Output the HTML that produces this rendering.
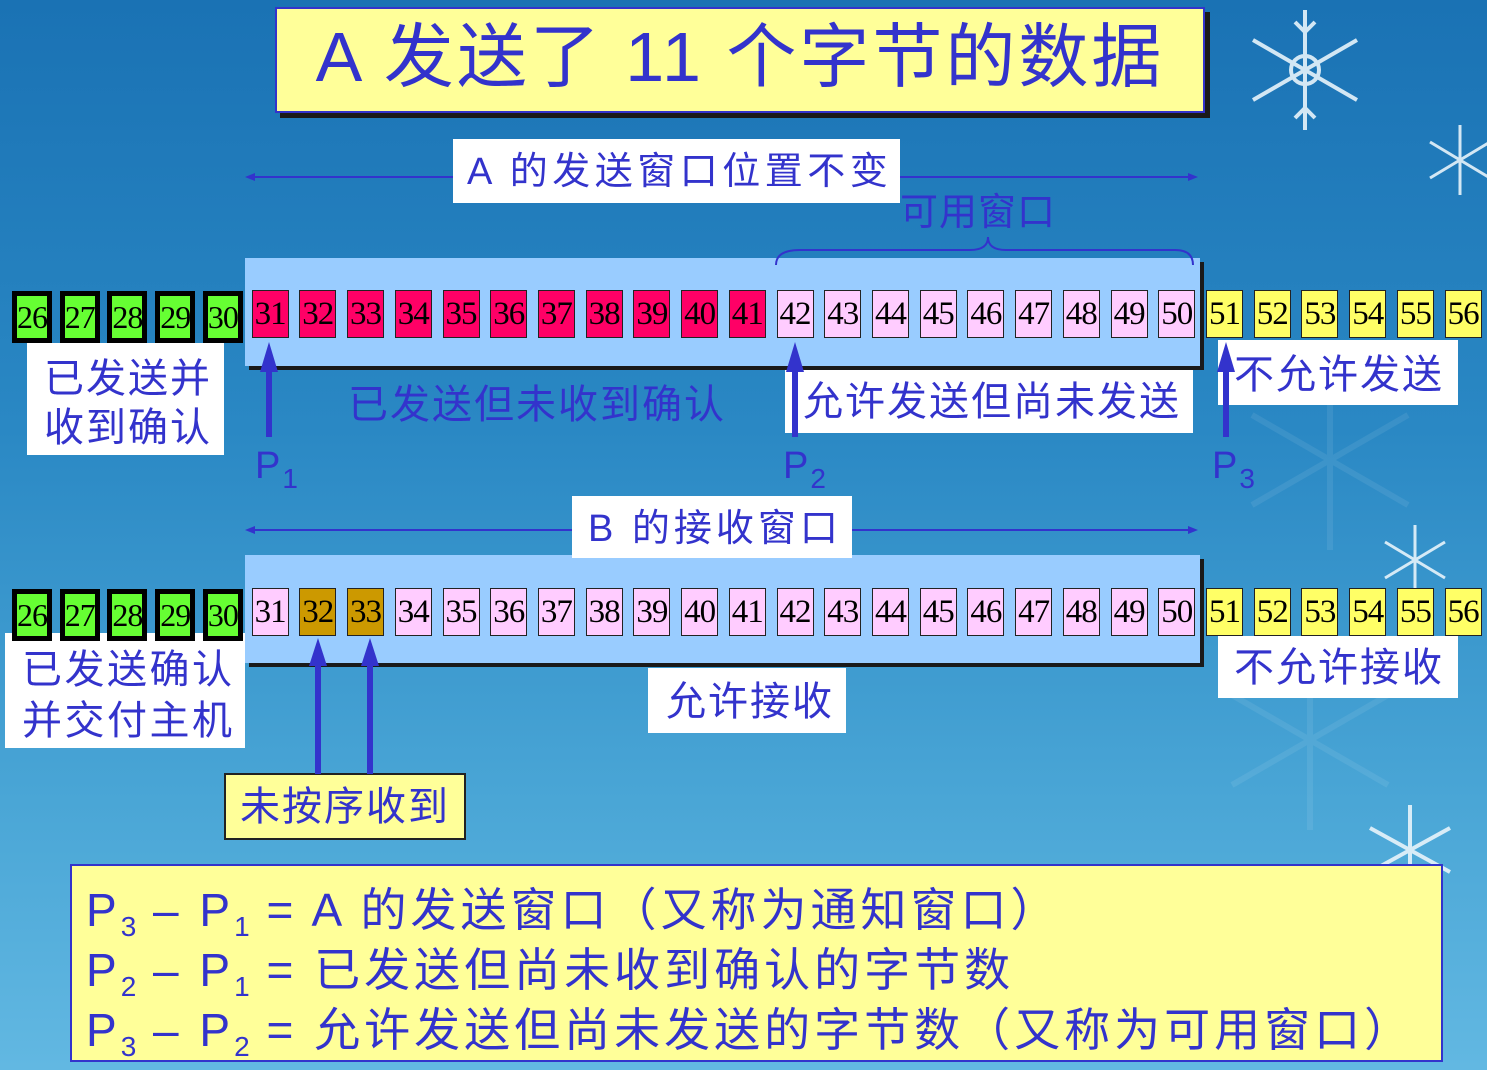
<!DOCTYPE html>
<html><head><meta charset="utf-8"><style>
*{margin:0;padding:0;box-sizing:border-box}
html,body{width:1487px;height:1070px;overflow:hidden}
body{position:relative;background:linear-gradient(180deg,#1a72b4 0%,#2a88c4 40%,#4aa6d6 75%,#62b8e2 100%);font-family:"Liberation Sans","Noto Sans CJK SC",sans-serif;color:#3333cc}
.a{position:absolute}
.w{position:absolute;background:#fff}
.c{position:absolute;width:37px;height:48px;font-family:"Liberation Serif",serif;font-size:33px;line-height:46px;text-align:center;color:#000;border:1.5px solid #222;letter-spacing:-1px}
.g{background:#66ff33;border:5px solid #000;width:40px;height:52px;line-height:42px;font-size:32px}
.r{background:#ff0066}.p{background:#ffccff}.y{background:#ffff66}.o{background:#cc9900}
.t{position:absolute;white-space:nowrap;font-size:40px;line-height:1;letter-spacing:2px}
sub{font-size:28px;vertical-align:-10px;line-height:0;letter-spacing:0}
</style></head><body>
<svg class="a" style="left:0;top:0" width="1487" height="1070">
 <g stroke="#e8f4fb" stroke-width="4" fill="none" opacity=".9">
  <g transform="translate(1305,70)"><circle r="14"/><path d="M0,-60V60M-52,-30L52,30M-52,30L52,-30M-10,-48L0,-38L10,-48M-10,48L0,38L10,48"/></g>
  <g transform="translate(1460,160)" stroke-width="3"><path d="M0,-35V35M-30,-18L30,18M-30,18L30,-18"/></g>
  <g transform="translate(1415,560)" stroke-width="3"><path d="M0,-35V35M-30,-18L30,18M-30,18L30,-18"/></g>
  <g transform="translate(1410,850)" stroke-width="4"><path d="M0,-45V45M-40,-22L40,22M-40,22L40,-22"/></g>
 </g>
 <g opacity=".08" stroke="#fff" stroke-width="6" fill="none">
  <g transform="translate(1330,460)"><path d="M0,-90V90M-78,-45L78,45M-78,45L78,-45"/></g>
  <g transform="translate(1310,740)"><path d="M0,-90V90M-78,-45L78,45M-78,45L78,-45"/></g>
 </g>
 <rect x="249" y="262" width="955" height="108" fill="#1a1a1a"/>
 <rect x="245" y="258" width="955" height="108" fill="#99ccff"/>
 <rect x="249" y="559" width="955" height="108" fill="#1a1a1a"/>
 <rect x="245" y="555" width="955" height="108" fill="#99ccff"/>
 <rect x="280" y="12" width="930" height="106" fill="#1a1a1a"/>
 <g stroke="#3333cc" stroke-width="2" fill="#3333cc">
  <line x1="250" y1="177" x2="1192" y2="177"/>
  <path d="M245,177l10,-4v8z M1198,177l-10,-4v8z" stroke="none"/>
  <line x1="250" y1="530" x2="1192" y2="530"/>
  <path d="M245,530l10,-4v8z M1198,530l-10,-4v8z" stroke="none"/>
 </g>
 <path d="M776,265 Q776,250 800,250 L970,250 Q988,250 988,237 Q988,250 1006,250 L1175,250 Q1193,250 1193,265" stroke="#3333cc" stroke-width="2" fill="none"/>
</svg>
<div class="a" style="left:275px;top:7px;width:930px;height:106px;background:#ffff99;border:2px solid #3333cc"></div>
<div class="t" style="left:275px;top:22px;width:930px;text-align:center;font-size:70px;letter-spacing:3px">A 发送了 11 个字节的数据</div>
<div class="w" style="left:453px;top:139px;width:447px;height:64px"></div>
<div class="t" style="left:467px;top:153px;font-size:38px;letter-spacing:4.5px">A 的发送窗口位置不变</div>
<div class="t" style="left:900px;top:194px;font-size:38px;letter-spacing:1px">可用窗口</div>
<div class="w" style="left:27px;top:343px;width:197px;height:112px"></div>
<div class="t" style="left:44px;top:355px;font-size:40px;line-height:49px">已发送并<br>收到确认</div>
<div class="t" style="left:348px;top:385px">已发送但未收到确认</div>
<div class="w" style="left:785px;top:370px;width:408px;height:63px"></div>
<div class="t" style="left:803px;top:382px">允许发送但尚未发送</div>
<div class="w" style="left:1218px;top:340px;width:240px;height:65px"></div>
<div class="t" style="left:1234px;top:355px">不允许发送</div>
<div class="t" style="left:255px;top:447px;font-size:38px">P<sub>1</sub></div>
<div class="t" style="left:783px;top:447px;font-size:38px">P<sub>2</sub></div>
<div class="t" style="left:1212px;top:447px;font-size:38px">P<sub>3</sub></div>
<div class="w" style="left:572px;top:496px;width:280px;height:62px"></div>
<div class="t" style="left:588px;top:510px;font-size:38px;letter-spacing:4px">B 的接收窗口</div>
<div class="w" style="left:5px;top:633px;width:240px;height:115px"></div>
<div class="t" style="left:22px;top:645px;font-size:40px;line-height:51px;letter-spacing:2.5px">已发送确认<br>并交付主机</div>
<div class="w" style="left:648px;top:668px;width:198px;height:65px"></div>
<div class="t" style="left:666px;top:682px">允许接收</div>
<div class="w" style="left:1218px;top:636px;width:240px;height:62px"></div>
<div class="t" style="left:1234px;top:648px">不允许接收</div>
<div class="a" style="left:224px;top:773px;width:242px;height:67px;background:#ffff99;border:2px solid #222"></div>
<div class="t" style="left:240px;top:787px">未按序收到</div>
<div class="a" style="left:70px;top:864px;width:1373px;height:198px;background:#ffff99;border:2px solid #3333cc"></div>
<div class="t" style="left:86px;top:880px;font-size:46px;line-height:60px;letter-spacing:4px">P<sub>3</sub> – P<sub>1</sub> = A 的发送窗口（又称为通知窗口）<br>P<sub>2</sub> – P<sub>1</sub> = 已发送但尚未收到确认的字节数<br>P<sub>3</sub> – P<sub>2</sub> = 允许发送但尚未发送的字节数（又称为可用窗口）</div>
<div id="cells"></div>
<svg class="a" style="left:0;top:0" width="1487" height="1070">
 <g fill="#3333cc" stroke="none">
  <rect x="266" y="368" width="6" height="69"/><path d="M260,372L269,342L278,372z"/>
  <rect x="792" y="368" width="6" height="69"/><path d="M786,372L795,342L804,372z"/>
  <rect x="1223" y="368" width="6" height="69"/><path d="M1217,372L1226,342L1235,372z"/>
  <rect x="315" y="662" width="6" height="112"/><path d="M309,666L318,638L327,666z"/>
  <rect x="367" y="662" width="6" height="112"/><path d="M361,666L370,638L379,666z"/>
 </g>
</svg>
<script>
var h='';
function cell(n,row){
  var i=n-26, x=12+i*47.72;
  var top=row?588:290, cls;
  if(n<=30){return '<div class="c g" style="left:'+x.toFixed(1)+'px;top:'+(top+1)+'px">'+n+'</div>';}
  x+=1;
  if(n>=51)cls='y';
  else if(!row)cls=n<=41?'r':'p';
  else cls=(n==32||n==33)?'o':'p';
  return '<div class="c '+cls+'" style="left:'+x.toFixed(1)+'px;top:'+top+'px">'+n+'</div>';
}
for(var n=26;n<=56;n++){h+=cell(n,0)+cell(n,1);}
document.getElementById('cells').innerHTML=h;
</script>
</body></html>
